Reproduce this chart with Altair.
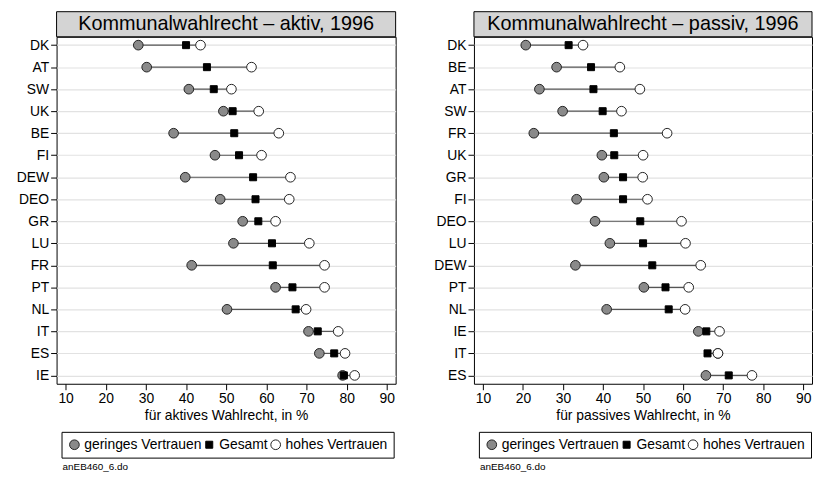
import altair as alt
import pandas as pd

FONT = "Liberation Sans"
groups = ["geringes Vertrauen", "Gesamt", "hohes Vertrauen"]

akt_countries = ["DK", "AT", "SW", "UK", "BE", "FI", "DEW", "DEO", "GR", "LU", "FR", "PT", "NL", "IT", "ES", "IE"]
akt_gering = [28.1, 30.2, 40.7, 49.3, 36.9, 47.2, 39.8, 48.5, 54.1, 51.8, 41.4, 62.3, 50.2, 70.5, 73.2, 79.0]
akt_gesamt = [40.0, 45.2, 46.9, 51.6, 52.0, 53.2, 56.7, 57.3, 58.0, 61.4, 61.6, 66.5, 67.3, 72.8, 76.9, 79.3]
akt_hoch = [43.6, 56.3, 51.3, 58.1, 63.1, 58.8, 66.0, 65.7, 62.3, 70.7, 74.5, 74.5, 69.9, 77.9, 79.6, 82.0]

pas_countries = ["DK", "BE", "AT", "SW", "FR", "UK", "GR", "FI", "DEO", "LU", "DEW", "PT", "NL", "IE", "IT", "ES"]
pas_gering = [20.7, 28.4, 24.1, 29.9, 22.7, 39.7, 40.2, 33.4, 38.0, 41.7, 33.1, 50.2, 40.9, 63.8, 68.7, 65.7]
pas_gesamt = [31.4, 37.0, 37.6, 39.9, 42.7, 42.8, 45.0, 45.0, 49.3, 50.0, 52.3, 55.6, 56.4, 65.8, 66.1, 71.4]
pas_hoch = [35.0, 44.2, 49.2, 44.6, 56.0, 50.0, 49.9, 51.1, 59.6, 60.6, 64.4, 61.4, 60.5, 69.1, 68.7, 77.2]

x_ticks = [10, 20, 30, 40, 50, 60, 70, 80, 90]
caption = "anEB460_6.do"

H = 350


def panel(title, xtitle, countries, gering, gesamt, hoch, width):
    wide = pd.DataFrame({"Land": countries, "g": gering, "m": gesamt, "h": hoch})
    wide["lo"] = wide[["g", "m", "h"]].min(axis=1)
    wide["hi"] = wide[["g", "m", "h"]].max(axis=1)
    long = pd.concat([
        pd.DataFrame({"Land": countries, "Wert": gering, "Gruppe": groups[0]}),
        pd.DataFrame({"Land": countries, "Wert": hoch, "Gruppe": groups[2]}),
        pd.DataFrame({"Land": countries, "Wert": gesamt, "Gruppe": groups[1]}),
    ], ignore_index=True)

    xscale = alt.Scale(domain=[7.75, 92.2], nice=False, zero=False)
    xaxis = alt.Axis(title=xtitle, values=x_ticks, grid=False, domain=False, tickSize=6,
                     tickColor="black", labelPadding=2, labelFontSize=14, titleFontSize=14,
                     titleFontWeight="normal", titlePadding=3, labelFlush=False)
    yscale = alt.Scale(type="point", padding=0.38)
    yenc = alt.Y("Land:N", sort=countries, scale=yscale,
                 axis=alt.Axis(title=None, grid=True, gridColor="#e2e2e2", gridWidth=1.2,
                               domain=False, tickSize=6, tickColor="black", labelPadding=2,
                               minExtent=43, labelFontSize=14))

    rules = alt.Chart(wide).mark_rule(color="#555555", strokeWidth=1.2).encode(
        x=alt.X("lo:Q", scale=xscale, axis=xaxis), x2="hi:Q", y=yenc)

    leg = alt.Legend(title=None, orient="none", legendX=5, legendY=398.5, direction="horizontal",
                     columns=3, labelFontSize=14, labelFont=FONT, labelColor="black", padding=6,
                     strokeColor="black", fillColor="white", columnPadding=0, labelOffset=3,
                     symbolStrokeWidth=1, labelLimit=300)
    pts = alt.Chart(long).mark_point(filled=True, strokeWidth=1, opacity=1).encode(
        x=alt.X("Wert:Q", scale=xscale),
        y=alt.Y("Land:N", sort=countries, scale=yscale),
        fill=alt.Fill("Gruppe:N", scale=alt.Scale(domain=groups, range=["#8a8a8a", "#000000", "#ffffff"]), legend=leg),
        stroke=alt.Stroke("Gruppe:N", scale=alt.Scale(domain=groups, range=["#222222", "#000000", "#222222"]), legend=leg),
        shape=alt.Shape("Gruppe:N", scale=alt.Scale(domain=groups, range=["circle", "square", "circle"]), legend=leg),
        size=alt.Size("Gruppe:N", scale=alt.Scale(type="ordinal", domain=groups, range=[95, 50, 95]), legend=leg),
    )

    tdf = pd.DataFrame({"t": [title]})
    box = alt.Chart(tdf).mark_rect(fill="#d4d4d4", stroke="black", strokeWidth=1).encode(
        x=alt.value(0), x2=alt.value(width), y=alt.value(-25.3), y2=alt.value(0))
    ttext = alt.Chart(tdf).mark_text(fontSize=20, font=FONT, baseline="alphabetic", color="black").encode(
        x=alt.value(width / 2), y=alt.value(-7.3), text="t:N")
    cdf = pd.DataFrame({"c": [caption]})
    cap = alt.Chart(cdf).mark_text(fontSize=10, font=FONT, align="left", baseline="alphabetic", color="black").encode(
        x=alt.value(6), y=alt.value(437), text="c:N")

    return alt.layer(rules, pts, box, ttext, cap).properties(width=width, height=H)


left = panel("Kommunalwahlrecht – aktiv, 1996", "für aktives Wahlrecht, in %",
             akt_countries, akt_gering, akt_gesamt, akt_hoch, 342)
right = panel("Kommunalwahlrecht – passiv, 1996", "für passives Wahlrecht, in %",
              pas_countries, pas_gering, pas_gesamt, pas_hoch, 341)

chart = alt.hconcat(left, right, spacing=79, bounds="flush").resolve_scale(
    fill="independent", stroke="independent", shape="independent", size="independent",
    x="independent", y="independent"
).resolve_legend(fill="independent", stroke="independent", shape="independent", size="independent").properties(
    padding={"left": 5, "top": 0, "right": 0, "bottom": 0}
).configure(font=FONT).configure_view(stroke="black", strokeWidth=1).configure_axis(
    labelFont=FONT, titleFont=FONT, labelColor="black", titleColor="black"
)

chart.save("out.html", embed_options={"renderer": "svg", "actions": False})
